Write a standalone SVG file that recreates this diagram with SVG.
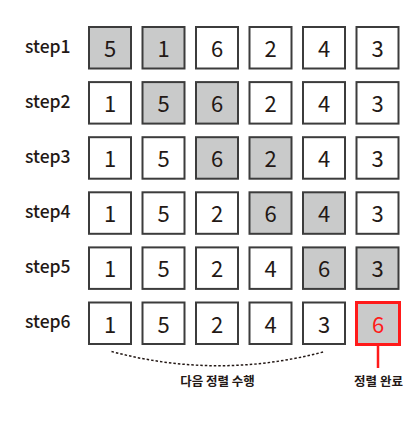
<svg xmlns="http://www.w3.org/2000/svg" width="420" height="421" viewBox="0 0 420 421">
<style>
.c{fill:#fff;stroke:#3c3c3c;stroke-width:2}
.g{fill:#c9caca;stroke:#3c3c3c;stroke-width:2}
.r{fill:#c9caca;stroke:#ff1a1a;stroke-width:3}
.n{font-family:"Noto Sans CJK KR","Noto Sans",sans-serif;font-size:22px;fill:#231815;text-anchor:middle}
.nr{fill:#ff1a1a}
.s{font-family:"Noto Sans CJK KR","Noto Sans",sans-serif;font-size:17.5px;font-weight:500;fill:#231815}
.k{font-family:"Noto Sans CJK KR",sans-serif;font-size:12.5px;font-weight:700;fill:#231815;text-anchor:middle}
</style>
<rect width="420" height="421" fill="#fff"/>
<g id="row1">
<text class="s" x="25" y="52.5">step1</text>
<g id="r1c1"><rect class="g" x="89" y="27" width="42" height="41.5"/><text class="n" x="110" y="57">5</text></g>
<g id="r1c2"><rect class="g" x="142.5" y="27" width="42" height="41.5"/><text class="n" x="163.5" y="57">1</text></g>
<g id="r1c3"><rect class="c" x="196" y="27" width="42" height="41.5"/><text class="n" x="217" y="57">6</text></g>
<g id="r1c4"><rect class="c" x="249.5" y="27" width="42" height="41.5"/><text class="n" x="270.5" y="57">2</text></g>
<g id="r1c5"><rect class="c" x="303" y="27" width="42" height="41.5"/><text class="n" x="324" y="57">4</text></g>
<g id="r1c6"><rect class="c" x="356.5" y="27" width="42" height="41.5"/><text class="n" x="377.5" y="57">3</text></g>
</g>
<g id="row2" transform="translate(0,55.1)">
<text class="s" x="25" y="52.5">step2</text>
<g id="r2c1"><rect class="c" x="89" y="27" width="42" height="41.5"/><text class="n" x="110" y="57">1</text></g>
<g id="r2c2"><rect class="g" x="142.5" y="27" width="42" height="41.5"/><text class="n" x="163.5" y="57">5</text></g>
<g id="r2c3"><rect class="g" x="196" y="27" width="42" height="41.5"/><text class="n" x="217" y="57">6</text></g>
<g id="r2c4"><rect class="c" x="249.5" y="27" width="42" height="41.5"/><text class="n" x="270.5" y="57">2</text></g>
<g id="r2c5"><rect class="c" x="303" y="27" width="42" height="41.5"/><text class="n" x="324" y="57">4</text></g>
<g id="r2c6"><rect class="c" x="356.5" y="27" width="42" height="41.5"/><text class="n" x="377.5" y="57">3</text></g>
</g>
<g id="row3" transform="translate(0,110.2)">
<text class="s" x="25" y="52.5">step3</text>
<g id="r3c1"><rect class="c" x="89" y="27" width="42" height="41.5"/><text class="n" x="110" y="57">1</text></g>
<g id="r3c2"><rect class="c" x="142.5" y="27" width="42" height="41.5"/><text class="n" x="163.5" y="57">5</text></g>
<g id="r3c3"><rect class="g" x="196" y="27" width="42" height="41.5"/><text class="n" x="217" y="57">6</text></g>
<g id="r3c4"><rect class="g" x="249.5" y="27" width="42" height="41.5"/><text class="n" x="270.5" y="57">2</text></g>
<g id="r3c5"><rect class="c" x="303" y="27" width="42" height="41.5"/><text class="n" x="324" y="57">4</text></g>
<g id="r3c6"><rect class="c" x="356.5" y="27" width="42" height="41.5"/><text class="n" x="377.5" y="57">3</text></g>
</g>
<g id="row4" transform="translate(0,165.3)">
<text class="s" x="25" y="52.5">step4</text>
<g id="r4c1"><rect class="c" x="89" y="27" width="42" height="41.5"/><text class="n" x="110" y="57">1</text></g>
<g id="r4c2"><rect class="c" x="142.5" y="27" width="42" height="41.5"/><text class="n" x="163.5" y="57">5</text></g>
<g id="r4c3"><rect class="c" x="196" y="27" width="42" height="41.5"/><text class="n" x="217" y="57">2</text></g>
<g id="r4c4"><rect class="g" x="249.5" y="27" width="42" height="41.5"/><text class="n" x="270.5" y="57">6</text></g>
<g id="r4c5"><rect class="g" x="303" y="27" width="42" height="41.5"/><text class="n" x="324" y="57">4</text></g>
<g id="r4c6"><rect class="c" x="356.5" y="27" width="42" height="41.5"/><text class="n" x="377.5" y="57">3</text></g>
</g>
<g id="row5" transform="translate(0,220.4)">
<text class="s" x="25" y="52.5">step5</text>
<g id="r5c1"><rect class="c" x="89" y="27" width="42" height="41.5"/><text class="n" x="110" y="57">1</text></g>
<g id="r5c2"><rect class="c" x="142.5" y="27" width="42" height="41.5"/><text class="n" x="163.5" y="57">5</text></g>
<g id="r5c3"><rect class="c" x="196" y="27" width="42" height="41.5"/><text class="n" x="217" y="57">2</text></g>
<g id="r5c4"><rect class="c" x="249.5" y="27" width="42" height="41.5"/><text class="n" x="270.5" y="57">4</text></g>
<g id="r5c5"><rect class="g" x="303" y="27" width="42" height="41.5"/><text class="n" x="324" y="57">6</text></g>
<g id="r5c6"><rect class="g" x="356.5" y="27" width="42" height="41.5"/><text class="n" x="377.5" y="57">3</text></g>
</g>
<g id="row6" transform="translate(0,275.5)">
<text class="s" x="25" y="52.5">step6</text>
<g id="r6c1"><rect class="c" x="89" y="27" width="42" height="41.5"/><text class="n" x="110" y="57">1</text></g>
<g id="r6c2"><rect class="c" x="142.5" y="27" width="42" height="41.5"/><text class="n" x="163.5" y="57">5</text></g>
<g id="r6c3"><rect class="c" x="196" y="27" width="42" height="41.5"/><text class="n" x="217" y="57">2</text></g>
<g id="r6c4"><rect class="c" x="249.5" y="27" width="42" height="41.5"/><text class="n" x="270.5" y="57">4</text></g>
<g id="r6c5"><rect class="c" x="303" y="27" width="42" height="41.5"/><text class="n" x="324" y="57">3</text></g>
<g id="r6c6"><rect class="r" x="356.5" y="27" width="43" height="42"/><text class="n nr" x="378" y="57">6</text></g>
</g>
<g id="connectors">
<path d="M111.5 351.5 Q218 380 325 351.5" fill="none" stroke="#231815" stroke-width="1.5" stroke-dasharray="2.5 2"/>
<line x1="378" y1="346" x2="378" y2="368" stroke="#ff1a1a" stroke-width="2.5"/>
</g>
<g id="label-next"><text class="k" x="217.5" y="386">다음 정렬 수행</text></g>
<g id="label-done"><text class="k" x="378.5" y="386">정렬 완료</text></g>
</svg>
